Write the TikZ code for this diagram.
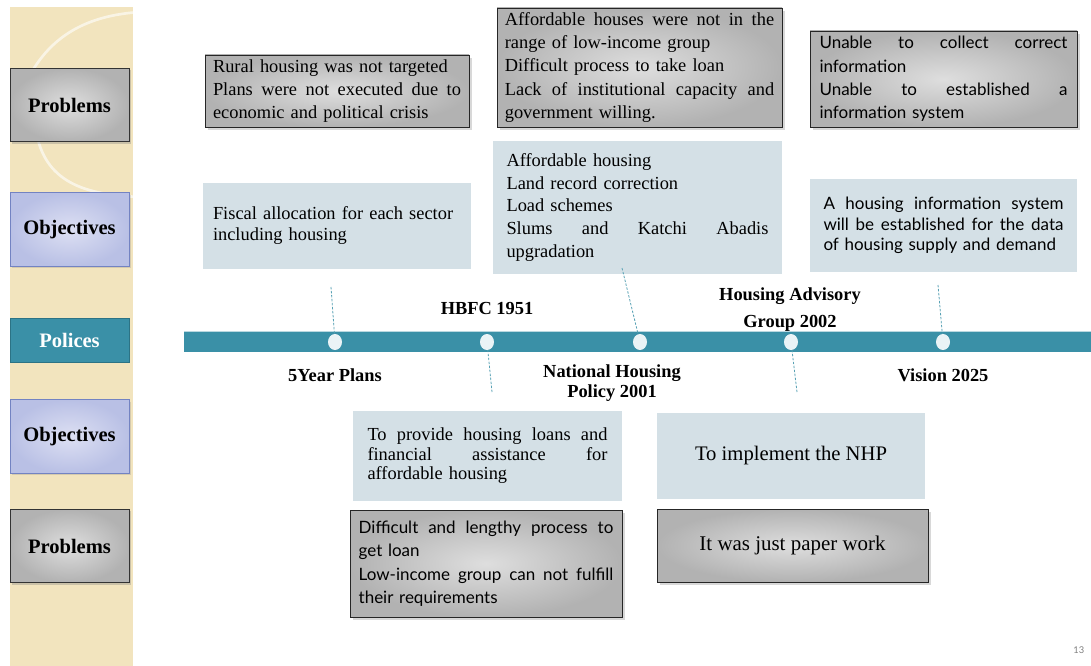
\documentclass[tikz,border=0pt]{standalone}
\usepackage{fontspec}
\setmainfont{Liberation Serif}
\setsansfont{Lato}
\usetikzlibrary{shapes,shadows}
\setlength{\parindent}{0pt}
\hyphenpenalty=10000
\exhyphenpenalty=10000
\newcommand{\justline}[1]{\makebox[\linewidth][s]{\spaceskip=\fontdimen2\font plus 1fil\relax #1}}

\definecolor{tealbar}{HTML}{3A90A7}
\definecolor{tealdark}{HTML}{2C7385}
\definecolor{paleblue}{HTML}{D4E0E6}
\definecolor{lavfill}{HTML}{B9C0E5}
\definecolor{lavlight}{HTML}{DDE0F3}
\definecolor{lavedge}{HTML}{7383C2}
\definecolor{beige}{HTML}{F2E4BE}
\definecolor{dotfill}{HTML}{EAF3F6}
\definecolor{grayin}{HTML}{DEDEDE}
\definecolor{grayout}{HTML}{B2B2B2}

\tikzstyle{sidebox} = [minimum width=89.25pt, minimum height=55pt, inner sep=0pt, font=\bfseries\fontsize{15.4}{18}\selectfont]
\tikzstyle{sidegray} = [sidebox, draw=black!80, line width=0.7pt, shade, inner color=grayin, outer color=grayout, drop shadow={shadow xshift=1.5pt, shadow yshift=-1.5pt, opacity=0.35}]
\tikzstyle{sideblue} = [sidebox, draw=lavedge, line width=0.7pt, shade, inner color=lavlight, outer color=lavfill, drop shadow={shadow xshift=1.5pt, shadow yshift=-1.5pt, opacity=0.25}]
\tikzstyle{sideteal} = [sidebox, minimum height=33pt, draw=tealdark, line width=0.7pt, fill=tealbar, text=white]
\tikzstyle{probbox} = [draw=black!85, line width=0.7pt, shade, inner color=grayin, outer color=grayout, drop shadow={shadow xshift=2pt, shadow yshift=-2pt, opacity=0.3}, align=left, inner sep=0pt]
\tikzstyle{objbox} = [fill=paleblue, align=left, inner sep=0pt]
\tikzstyle{serif13} = [font=\fontsize{13.8}{17.4}\selectfont]
\tikzstyle{sans13} = [font=\sffamily\fontsize{12.75}{17.6}\selectfont]
\tikzstyle{milestone} = [ellipse, fill=dotfill, minimum width=10.5pt, minimum height=12pt, inner sep=0pt]
\tikzstyle{mlabel} = [font=\bfseries\fontsize{13.8}{15}\selectfont, align=center]
\tikzstyle{dotline} = [tealbar!85, line width=0.6pt, dash pattern=on 1.8pt off 1.2pt]

\begin{document}
\begin{tikzpicture}[x=0.75pt, y=-0.75pt]
  \useasboundingbox (0,0) rectangle (1091,666);
  \fill[white] (0,0) rectangle (1091,666);
  \fill[beige] (10,7) rectangle (133,666);
  \begin{scope}
    \clip (10,7) rectangle (133,666);
    \draw[white, opacity=0.6, line width=2pt] (30,75) .. controls (55,30) and (95,15) .. (140,12);
    \draw[white, opacity=0.6, line width=2pt] (38,140) .. controls (50,185) and (90,195) .. (140,197);
  \end{scope}

  \node[sidegray] (prob1) at (69.5,105) {Problems};
  \node[sideblue] (obj1) at (69.5,229.5) {Objectives};
  \node[sideteal] (pol) at (69.5,340) {Polices};
  \node[sideblue] (obj2) at (69.5,436.5) {Objectives};
  \node[sidegray] (prob2) at (69.5,546) {Problems};

  \node[probbox, serif13, minimum width=198pt, minimum height=54pt, text width=186pt] (p1) at (337,91)
    {Rural housing was not targeted\\ \justline{Plans were not executed due to}\\ economic and political crisis};
  \node[probbox, font=\fontsize{13.8}{17.6}\selectfont, minimum width=213.75pt, minimum height=89.25pt, text width=202pt] (p2) at (639.5,67.5)
    {\justline{Affordable houses were not in the}\\ range of low-income group\\ Difficult process to take loan\\ \justline{Lack of institutional capacity and}\\ government willing.};
  \node[probbox, sans13, minimum width=200.25pt, minimum height=72pt, text width=186pt] (p3) at (943.5,79)
    {\justline{Unable to collect correct}\\ information\\ \justline{Unable to established a}\\ information system};

  \node[objbox, font=\fontsize{13.8}{15.75}\selectfont, minimum width=201pt, minimum height=64.5pt, text width=186pt] (o1) at (337,226)
    {Fiscal allocation for each sector\\ including housing};
  \node[objbox, font=\fontsize{13.8}{16.9}\selectfont, minimum width=216.75pt, minimum height=99.75pt, text width=196.5pt] (o2) at (637.5,207.5)
    {Affordable housing\\ Land record correction\\ Load schemes\\ \justline{Slums and Katchi Abadis}\\ upgradation};
  \node[objbox, font=\sffamily\fontsize{12.75}{15.4}\selectfont, minimum width=200.25pt, minimum height=69.75pt, text width=180pt] (o3) at (943.5,225.5)
    {\justline{A housing information system}\\ \justline{will be established for the data}\\ of housing supply and demand};

  \fill[tealbar] (184,331) rectangle (1091,352);
  \draw[white!65!tealbar, line width=0.6pt] (184,331) -- (1091,331);

  \node[milestone] (c1) at (335,342) {};
  \node[milestone] (c2) at (487,342) {};
  \node[milestone] (c3) at (640,342) {};
  \node[milestone] (c4) at (791,342) {};
  \node[milestone] (c5) at (943,342) {};
  \coordinate (d1) at (331,287);
  \coordinate (d2) at (492,392);
  \coordinate (d3) at (622,268);
  \coordinate (d4) at (797,392);
  \coordinate (d5) at (938,285);
  \draw[dotline] (d1) -- (c1);
  \draw[dotline] (d2) -- (c2);
  \draw[dotline] (d3) -- (c3);
  \draw[dotline] (d4) -- (c4);
  \draw[dotline] (d5) -- (c5);

  \node[mlabel] (l1) at (335,375) {5Year Plans};
  \node[mlabel] (l2) at (487,308) {HBFC 1951};
  \node[mlabel] (l3) at (612,383) {National Housing\\Policy 2001};
  \node[mlabel] (l4) at (790,309.5) {Housing Advisory\\[5pt]Group 2002};
  \node[mlabel] (l5) at (943,375) {Vision 2025};

  \node[objbox, font=\fontsize{13.8}{14.6}\selectfont, minimum width=201.75pt, minimum height=67.5pt, text width=180pt] (o4) at (487.5,456)
    {\justline{To provide housing loans and}\\ \justline{financial assistance for}\\ affordable housing};
  \node[objbox, font=\fontsize{15.5}{18}\selectfont, align=center, minimum width=201pt, minimum height=64.5pt] (o5) at (791,456)
    {To implement the NHP};

  \node[probbox, sans13, minimum width=204pt, minimum height=80.25pt, text width=191pt] (p4) at (486,563.5)
    {\justline{Difficult and lengthy process to}\\ get loan\\ \justline{Low-income group can not fulfill}\\ their requirements};
  \node[probbox, font=\fontsize{15.7}{18}\selectfont, align=center, minimum width=203.25pt, minimum height=54.75pt] (p5) at (792.5,545.5)
    {It was just paper work};

  \node[font=\sffamily\fontsize{7}{8}\selectfont, text=gray, anchor=east] (pg) at (1089,650) {13};
\end{tikzpicture}
\end{document}
